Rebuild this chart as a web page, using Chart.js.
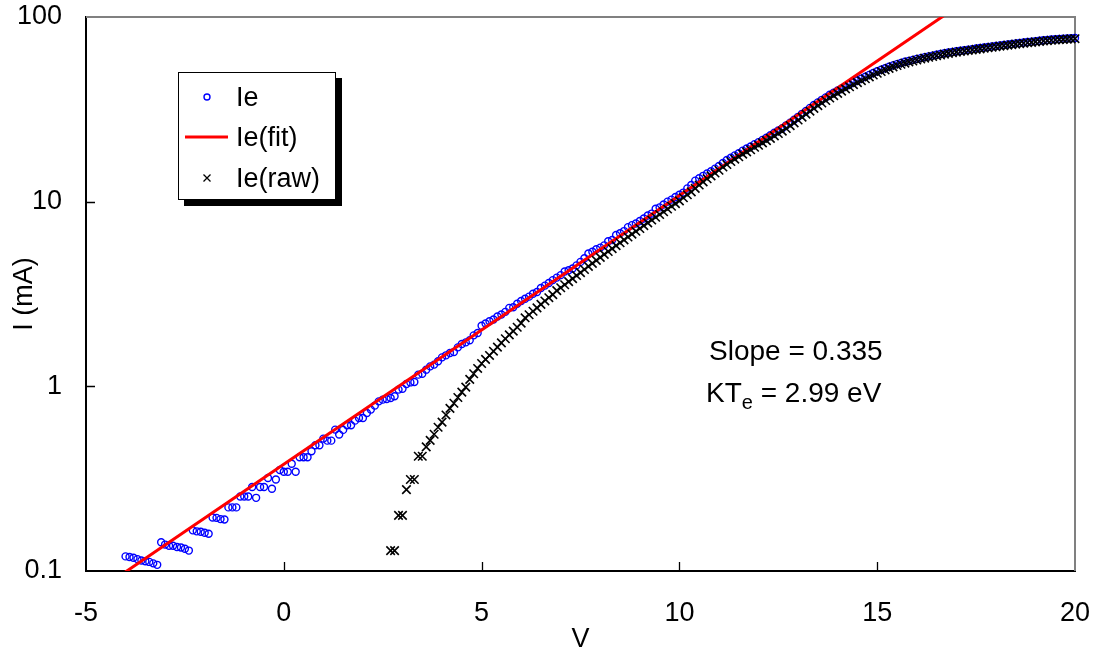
<!DOCTYPE html>
<html>
<head>
<meta charset="utf-8">
<script src="https://cdn.jsdelivr.net/npm/chart.js@4.4.0/dist/chart.umd.min.js"></script>
<style>
  body { margin: 0; background: #fff; }
  #wrap { position: relative; width: 1098px; height: 656px; font-family: "Liberation Sans", Arial, sans-serif; }
  #legend {
    position: absolute; left: 178px; top: 72px; width: 156px; height: 126px;
    border: 1px solid #000; background: #fff; box-shadow: 6px 6px 0 #000;
  }
  .row { position: absolute; left: 0; height: 32px; width: 156px; font-size: 27px; line-height: 32px; }
  .row svg { position: absolute; left: 6px; top: 6px; }
  .row span { position: absolute; left: 57px; }
  .note { position: absolute; font-size: 28px; line-height: 32px; color: #000; white-space: nowrap; }
</style>
</head>
<body>
<div id="wrap">
  <canvas id="plot" width="1098" height="656"></canvas>
  <div id="legend">
    <div class="row" style="top:8px">
      <svg width="44" height="20"><circle cx="22" cy="10" r="3" fill="none" stroke="#0000ff" stroke-width="1.4"/></svg>
      <span>Ie</span>
    </div>
    <div class="row" style="top:48px">
      <svg width="44" height="20"><line x1="0" y1="10" x2="43" y2="10" stroke="#ff0000" stroke-width="3"/></svg>
      <span>Ie(fit)</span>
    </div>
    <div class="row" style="top:89px">
      <svg width="44" height="20"><path d="M18.5 6.5 L25.5 13.5 M25.5 6.5 L18.5 13.5" stroke="#000" stroke-width="1.3"/></svg>
      <span>Ie(raw)</span>
    </div>
  </div>
  <div class="note" style="left:709px; top:335px;">Slope = 0.335</div>
  <div class="note" style="left:706px; top:377px;">KT<sub style="font-size:20px;">e</sub> = 2.99 eV</div>
</div>
<script>
// sweep voltages (V), 0.1 V apart
const volts = [
  -4.0,-3.9,-3.8,-3.7,-3.6,-3.5,-3.4,-3.3,-3.2,-3.1,
  -3.0,-2.9,-2.8,-2.7,-2.6,-2.5,-2.4,-2.3,-2.2,-2.1,
  -2.0,-1.9,-1.8,-1.7,-1.6,-1.5,-1.4,-1.3,-1.2,-1.1,
  -1.0,-0.9,-0.8,-0.7,-0.6,-0.5,-0.4,-0.3,-0.2,-0.1,
  0.0,0.1,0.2,0.3,0.4,0.5,0.6,0.7,0.8,0.9,
  1.0,1.1,1.2,1.3,1.4,1.5,1.6,1.7,1.8,1.9,
  2.0,2.1,2.2,2.3,2.4,2.5,2.6,2.7,2.8,2.9,
  3.0,3.1,3.2,3.3,3.4,3.5,3.6,3.7,3.8,3.9,
  4.0,4.1,4.2,4.3,4.4,4.5,4.6,4.7,4.8,4.9,
  5.0,5.1,5.2,5.3,5.4,5.5,5.6,5.7,5.8,5.9,
  6.0,6.1,6.2,6.3,6.4,6.5,6.6,6.7,6.8,6.9,
  7.0,7.1,7.2,7.3,7.4,7.5,7.6,7.7,7.8,7.9,
  8.0,8.1,8.2,8.3,8.4,8.5,8.6,8.7,8.8,8.9,
  9.0,9.1,9.2,9.3,9.4,9.5,9.6,9.7,9.8,9.9,
  10.0,10.1,10.2,10.3,10.4,10.5,10.6,10.7,10.8,10.9,
  11.0,11.1,11.2,11.3,11.4,11.5,11.6,11.7,11.8,11.9,
  12.0,12.1,12.2,12.3,12.4,12.5,12.6,12.7,12.8,12.9,
  13.0,13.1,13.2,13.3,13.4,13.5,13.6,13.7,13.8,13.9,
  14.0,14.1,14.2,14.3,14.4,14.5,14.6,14.7,14.8,14.9,
  15.0,15.1,15.2,15.3,15.4,15.5,15.6,15.7,15.8,15.9,
  16.0,16.1,16.2,16.3,16.4,16.5,16.6,16.7,16.8,16.9,
  17.0,17.1,17.2,17.3,17.4,17.5,17.6,17.7,17.8,17.9,
  18.0,18.1,18.2,18.3,18.4,18.5,18.6,18.7,18.8,18.9,
  19.0,19.1,19.2,19.3,19.4,19.5,19.6,19.7,19.8,19.9,
  20.0
];

// electron current Ie (mA), one per volt above
const ieVals = [
  0.120,0.119,0.118,0.116,0.114,0.113,0.112,0.110,0.108,0.143,
  0.139,0.137,0.137,0.135,0.134,0.132,0.129,0.166,0.164,0.163,
  0.161,0.159,0.195,0.194,0.191,0.190,0.221,0.221,0.221,0.253,
  0.253,0.253,0.285,0.249,0.285,0.285,0.319,0.279,0.313,0.352,
  0.345,0.345,0.381,0.345,0.413,0.413,0.413,0.445,0.480,0.480,
  0.521,0.508,0.508,0.583,0.548,0.581,0.615,0.615,0.652,0.674,
  0.674,0.717,0.748,0.786,0.829,0.847,0.854,0.864,0.883,0.960,
  0.970,1.03,1.05,1.055,1.157,1.17,1.231,1.283,1.311,1.366,
  1.435,1.472,1.514,1.534,1.626,1.694,1.730,1.775,1.888,1.944,
  2.13,2.19,2.25,2.30,2.39,2.45,2.53,2.66,2.68,2.80,
  2.90,2.98,3.06,3.17,3.24,3.41,3.51,3.63,3.76,3.88,
  4.00,4.19,4.25,4.35,4.52,4.72,4.94,5.24,5.36,5.53,
  5.64,5.80,6.10,6.20,6.60,6.74,6.93,7.28,7.46,7.62,
  7.86,8.10,8.42,8.62,9.15,9.31,9.66,10.0,10.26,10.6,
  10.9,11.2,11.8,12.3,13.0,13.4,13.8,14.2,14.6,15.1,
  15.6,16.2,16.8,17.3,17.8,18.3,18.9,19.4,19.9,20.5,
  21.0,21.6,22.2,22.9,23.6,24.3,25.0,25.9,26.8,27.8,
  28.8,29.9,31.0,32.2,33.4,34.5,35.6,36.7,37.9,38.9,
  40.0,41.0,42.0,43.1,44.2,45.3,46.4,47.5,48.6,49.7,
  50.8,51.8,52.8,53.8,54.7,55.6,56.4,57.2,57.9,58.6,
  59.3,59.9,60.6,61.2,61.8,62.4,63.0,63.6,64.2,64.7,
  65.2,65.7,66.1,66.6,67.0,67.5,67.9,68.4,68.8,69.3,
  69.7,70.2,70.6,71.1,71.5,72.0,72.4,72.8,73.2,73.6,
  74.0,74.4,74.8,75.2,75.5,75.8,76.1,76.4,76.6,76.8,
  77.0
];

// raw probe current, starts at 2.7 V
const rawFrom = 2.7;
const rawVals = [
  0.129,0.129,0.200,
  0.200,0.276,0.313,0.313,0.418,0.418,0.47,0.51,0.55,0.60,
  0.64,0.70,0.76,0.81,0.87,0.93,0.99,1.09,1.17,1.25,
  1.33,1.40,1.47,1.55,1.63,1.72,1.81,1.90,1.99,2.09,
  2.20,2.35,2.44,2.55,2.66,2.78,2.90,3.02,3.14,3.30,
  3.42,3.55,3.69,3.83,3.98,4.13,4.29,4.46,4.63,4.81,
  4.99,5.18,5.37,5.57,5.78,5.99,6.21,6.44,6.67,6.91,
  7.16,7.42,7.68,7.95,8.23,8.52,8.82,9.12,9.44,9.76,
  10.1,10.5,10.9,11.3,11.8,12.3,12.8,13.3,13.8,14.3,
  14.8,15.4,15.9,16.5,17.0,17.5,18.1,18.6,19.1,19.7,
  20.2,20.8,21.4,22.0,22.7,23.4,24.1,24.9,25.8,26.7,
  27.7,28.7,29.8,30.9,32.0,33.1,34.2,35.3,36.4,37.5,
  38.6,39.7,40.8,41.9,43.0,44.1,45.2,46.3,47.4,48.5,
  49.6,50.7,51.7,52.7,53.7,54.6,55.5,56.3,57.1,57.8,
  58.5,59.2,59.9,60.5,61.1,61.7,62.3,62.9,63.5,64.0,
  64.5,65.0,65.4,65.9,66.3,66.8,67.2,67.7,68.1,68.6,
  69.0,69.5,69.9,70.4,70.8,71.3,71.7,72.1,72.5,72.9,
  73.3,73.7,74.1,74.5,74.8,75.1,75.4,75.7,75.9,76.1,
  76.3
];

// fitted exponential
const fitVolts = [-4.2, 0, 5, 10, 15, 17.0];
const fitVals = [0.0925, 0.378, 2.02, 10.8, 57.8, 113];

const yTicks = [0.1, 1, 10, 100];
const xTicks = [-5, 0, 5, 10, 15, 20];

const rawStart = volts.indexOf(rawFrom);
const iePts = volts.map((v, i) => ({ x: v, y: ieVals[i] }));
const rawPts = rawVals.map((r, i) => ({ x: volts[rawStart + i], y: r }));
const fitPts = fitVolts.map((v, i) => ({ x: v, y: fitVals[i] }));

const tickFont = { family: '"Liberation Sans", Arial, sans-serif', size: 27 };

function noPad(s) {
  s.paddingTop = 0; s.paddingBottom = 0; s.paddingLeft = 0; s.paddingRight = 0;
}

// excel style: ticks inside, grey top/right frame
const frame = {
  id: 'frame',
  beforeDatasetsDraw(chart) {
    const { ctx, chartArea: a, scales } = chart;
    ctx.save();
    ctx.strokeStyle = '#808080';
    ctx.lineWidth = 2;
    ctx.beginPath();
    ctx.moveTo(a.left, a.top);
    ctx.lineTo(a.right, a.top);
    ctx.lineTo(a.right, a.bottom);
    ctx.stroke();
    ctx.strokeStyle = '#000';
    ctx.lineWidth = 1.3;
    ctx.beginPath();
    [1, 10].forEach(t => {
      const y = Math.round(scales.y.getPixelForValue(t)) + 0.5;
      ctx.moveTo(a.left, y);
      ctx.lineTo(a.left + 9, y);
    });
    [0, 5, 10, 15].forEach(t => {
      const x = Math.round(scales.x.getPixelForValue(t)) + 0.5;
      ctx.moveTo(x, a.bottom);
      ctx.lineTo(x, a.bottom - 9);
    });
    ctx.stroke();
    ctx.restore();
  }
};

const chart = new Chart(document.getElementById('plot'), {
  type: 'scatter',
  data: {
    datasets: [
      {
        label: 'Ie(raw)', data: rawPts, order: 0, clip: false,
        pointStyle: 'crossRot', pointRadius: 6, borderColor: '#000', borderWidth: 1.6,
        showLine: false
      },
      {
        label: 'Ie(fit)', data: fitPts, order: 1,
        showLine: true, borderColor: '#ff0000', borderWidth: 3, pointRadius: 0
      },
      {
        label: 'Ie', data: iePts, order: 2, clip: false,
        pointStyle: 'circle', pointRadius: 3.5, borderColor: '#0000ff', borderWidth: 1.4,
        backgroundColor: 'rgba(0,0,0,0)', showLine: false
      }
    ]
  },
  options: {
    responsive: false,
    animation: false,
    layout: { padding: { top: 17, right: 23, left: 0, bottom: 0 } },
    plugins: { legend: { display: false }, tooltip: { enabled: false } },
    scales: {
      x: {
        type: 'linear', min: -5, max: 20,
        afterBuildTicks: s => { s.ticks = xTicks.map(v => ({ value: v })); },
        afterFit: s => { s.height = 85; noPad(s); },
        grid: { display: false, drawTicks: false },
        border: { display: true, color: '#000', width: 2 },
        ticks: { color: '#000', font: tickFont, padding: 26, maxRotation: 0 },
        title: { display: true, text: 'V', color: '#000', font: tickFont, padding: { top: 0, bottom: 0 } }
      },
      y: {
        type: 'logarithmic', min: 0.1, max: 100,
        afterBuildTicks: s => { s.ticks = yTicks.map(v => ({ value: v })); },
        afterFit: s => { s.width = 86; noPad(s); },
        grid: { display: false, drawTicks: false },
        border: { display: true, color: '#000', width: 2 },
        ticks: { color: '#000', font: tickFont, padding: 24, callback: v => String(v) },
        title: { display: true, text: 'I (mA)', color: '#000', font: tickFont, padding: { top: 8, bottom: 0 } }
      }
    }
  },
  plugins: [frame]
});
</script>
</body>
</html>
